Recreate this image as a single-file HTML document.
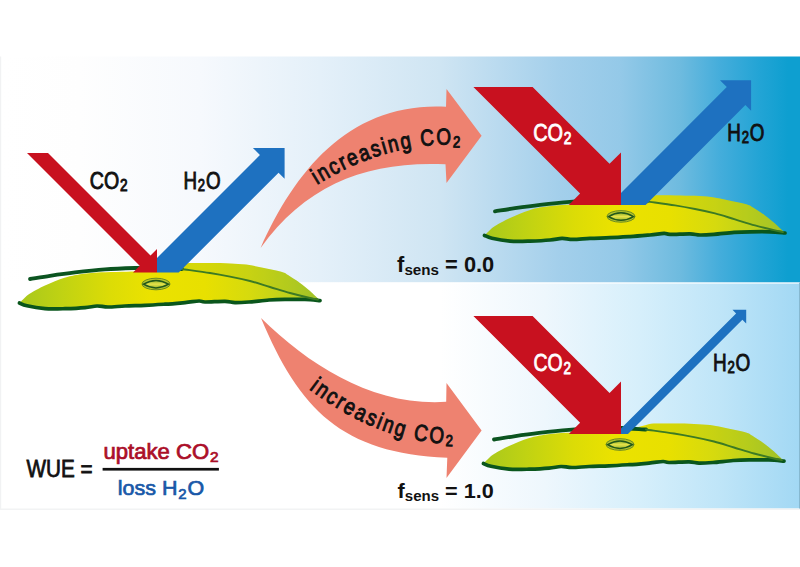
<!DOCTYPE html>
<html><head><meta charset="utf-8">
<style>
html,body{margin:0;padding:0;background:#fff;width:800px;height:567px;overflow:hidden}
svg{display:block}
text{font-family:"Liberation Sans",sans-serif;}
</style></head><body>
<svg width="800" height="567" viewBox="0 0 800 567">
<defs>
  <linearGradient id="gTop" gradientUnits="userSpaceOnUse" x1="0" y1="0" x2="800" y2="0">
    <stop offset="0" stop-color="#ffffff"/>
    <stop offset="0.10" stop-color="#fefefe"/>
    <stop offset="0.25" stop-color="#f6f9fd"/>
    <stop offset="0.40" stop-color="#e4f0f9"/>
    <stop offset="0.55" stop-color="#cfe5f3"/>
    <stop offset="0.70" stop-color="#a3cfeb"/>
    <stop offset="0.775" stop-color="#94c9e8"/>
    <stop offset="0.85" stop-color="#6ebbdf"/>
    <stop offset="0.90" stop-color="#44addb"/>
    <stop offset="0.95" stop-color="#22a4d5"/>
    <stop offset="0.985" stop-color="#0e9fd0"/>
  </linearGradient>
  <linearGradient id="gBot" gradientUnits="userSpaceOnUse" x1="0" y1="0" x2="800" y2="0">
    <stop offset="0" stop-color="#ffffff"/>
    <stop offset="0.55" stop-color="#ffffff"/>
    <stop offset="0.68" stop-color="#eef7fd"/>
    <stop offset="0.8" stop-color="#d6effb"/>
    <stop offset="0.9" stop-color="#bfe5f8"/>
    <stop offset="1" stop-color="#a2d8f4"/>
  </linearGradient>
  <linearGradient id="gLeaf" gradientUnits="userSpaceOnUse" x1="0" y1="0" x2="800" y2="0">
    <stop offset="0.025" stop-color="#a8c81c"/>
    <stop offset="0.075" stop-color="#bfd213"/>
    <stop offset="0.1375" stop-color="#dcdc06"/>
    <stop offset="0.1875" stop-color="#ebe200"/>
    <stop offset="0.256" stop-color="#e8e000"/>
    <stop offset="0.3125" stop-color="#d6da0e"/>
    <stop offset="0.3625" stop-color="#bcd01c"/>
    <stop offset="0.40" stop-color="#a6c62a"/>
  </linearGradient>
  <linearGradient id="gStoma" x1="0" y1="0" x2="0" y2="1">
    <stop offset="0" stop-color="#8fb02a"/>
    <stop offset="0.5" stop-color="#e6e24a"/>
    <stop offset="1" stop-color="#9cb82c"/>
  </linearGradient>
  <g id="leaf">
    <path fill="url(#gLeaf)" d="M19.5,303.0 C20.4,302.1 23.2,299.1 25.0,297.5 C26.8,295.9 26.7,295.5 30.0,293.5 C33.3,291.5 39.2,288.1 45.0,285.5 C50.8,282.9 59.0,279.6 64.5,277.8 C70.0,276.0 72.5,275.6 78.0,274.7 C83.5,273.8 88.0,273.0 97.5,272.5 C107.0,272.0 125.1,271.8 135.0,271.5 C144.9,271.2 153.3,271.1 157.0,271.0 L182,264.5 C183.3,264.2 185.3,263.2 190.0,263.0 C194.7,262.8 203.3,262.9 210.0,263.0 C216.7,263.1 224.0,263.1 230.0,263.4 C236.0,263.7 240.3,263.8 246.0,264.6 C251.7,265.4 258.0,266.8 264.0,268.0 C270.0,269.2 278.0,270.8 282.0,272.0 C286.0,273.2 285.0,273.2 288.0,275.0 C291.0,276.8 296.3,280.3 300.0,283.0 C303.7,285.7 306.7,288.1 310.0,291.0 C313.3,293.9 318.3,299.0 320.0,300.6 L320.0,300.6 C317.5,300.4 310.8,299.6 305.0,299.4 C299.2,299.2 291.0,299.3 285.0,299.4 C279.0,299.5 275.0,299.6 269.0,300.0 C263.0,300.4 254.7,301.6 249.0,302.0 C243.3,302.4 239.0,302.7 235.0,302.6 C231.0,302.5 230.0,301.5 225.0,301.4 C220.0,301.3 209.3,302.1 205.0,302.0 C200.7,301.9 202.3,300.9 199.0,301.0 C195.7,301.1 190.7,302.1 185.0,302.6 C179.3,303.1 171.7,303.8 165.0,304.2 C158.3,304.6 151.7,305.0 145.0,305.3 C138.3,305.6 131.2,305.7 125.0,306.0 C118.8,306.3 112.7,307.0 108.0,307.0 C103.3,307.0 100.8,305.9 97.0,306.0 C93.2,306.1 90.3,307.2 85.0,307.6 C79.7,308.1 71.7,308.5 65.0,308.7 C58.3,308.9 51.3,309.2 45.0,308.7 C38.7,308.2 31.2,306.8 27.0,305.8 C22.8,304.9 20.8,303.5 19.5,303.0 Z"/>
    <path fill="#8db526" fill-opacity="0.2" d="M182,264.5 C183.3,264.2 185.3,263.2 190.0,263.0 C194.7,262.8 203.3,262.9 210.0,263.0 C216.7,263.1 224.0,263.1 230.0,263.4 C236.0,263.7 240.3,263.8 246.0,264.6 C251.7,265.4 258.0,266.8 264.0,268.0 C270.0,269.2 278.0,270.8 282.0,272.0 C286.0,273.2 285.0,273.2 288.0,275.0 C291.0,276.8 296.3,280.3 300.0,283.0 C303.7,285.7 306.7,288.1 310.0,291.0 C313.3,293.9 318.3,299.0 320.0,300.6 L318,299.6 C316.7,299.3 314.7,299.1 310.0,298.0 C305.3,296.9 296.7,294.8 290.0,293.0 C283.3,291.2 276.7,289.0 270.0,287.0 C263.3,285.0 256.7,282.7 250.0,281.0 C243.3,279.3 236.7,277.9 230.0,276.6 C223.3,275.3 218.0,274.3 210.0,273.0 C202.0,271.7 186.7,269.7 182.0,269.0 Z"/>
    <path fill="none" stroke="#0a561c" stroke-width="3.7" stroke-linejoin="round" stroke-linecap="round" d="M19.5,303.0 C20.8,303.5 22.8,304.9 27.0,305.8 C31.2,306.8 38.7,308.2 45.0,308.7 C51.3,309.2 58.3,308.9 65.0,308.7 C71.7,308.5 79.7,308.1 85.0,307.6 C90.3,307.2 93.2,306.1 97.0,306.0 C100.8,305.9 103.3,307.0 108.0,307.0 C112.7,307.0 118.8,306.3 125.0,306.0 C131.2,305.7 138.3,305.6 145.0,305.3 C151.7,305.0 158.3,304.6 165.0,304.2 C171.7,303.8 179.3,303.1 185.0,302.6 C190.7,302.1 195.7,301.1 199.0,301.0 C202.3,300.9 200.7,301.9 205.0,302.0 C209.3,302.1 220.0,301.3 225.0,301.4 C230.0,301.5 231.0,302.5 235.0,302.6 C239.0,302.7 243.3,302.4 249.0,302.0 C254.7,301.6 263.0,300.4 269.0,300.0 C275.0,299.6 279.0,299.5 285.0,299.4 C291.0,299.3 299.2,299.2 305.0,299.4 C310.8,299.6 317.5,300.4 320.0,300.6"/>
    <path fill="none" stroke="#0b5420" stroke-width="3.8" stroke-linecap="round" d="M30.0,279.0 C33.3,278.5 42.5,276.9 50.0,275.8 C57.5,274.7 65.8,273.5 75.0,272.4 C84.2,271.3 95.0,270.1 105.0,269.4 C115.0,268.7 126.3,268.3 135.0,268.0 C143.7,267.7 149.2,267.3 157.0,267.5 C164.8,267.7 177.8,268.8 182.0,269.0"/>
    <path fill="none" stroke="#3c7a24" stroke-width="1.9" stroke-linecap="round" d="M182.0,269.0 C186.7,269.7 202.0,271.7 210.0,273.0 C218.0,274.3 223.3,275.3 230.0,276.6 C236.7,277.9 243.3,279.3 250.0,281.0 C256.7,282.7 263.3,285.0 270.0,287.0 C276.7,289.0 283.3,291.2 290.0,293.0 C296.7,294.8 305.3,296.9 310.0,298.0 C314.7,299.1 316.7,299.3 318.0,299.6"/>
    <ellipse cx="156" cy="284" rx="14" ry="5.8" fill="#b5c52c" stroke="#6a8a22" stroke-width="1"/>
    <path d="M143.5,284.2 Q156,276.6 168.5,284.2 Q156,291.6 143.5,284.2 Z" fill="url(#gStoma)" stroke="#22581a" stroke-width="1.5"/>
  </g>
  
</defs>

<!-- panels -->
<rect x="1" y="56.5" width="799" height="226" fill="url(#gTop)"/>
<rect x="1" y="282.5" width="799" height="226" fill="url(#gBot)"/>
<rect x="2" y="282.5" width="798" height="1.5" fill="#ffffff" fill-opacity="0.6"/>
<rect x="0" y="56.5" width="1.2" height="453" fill="#f1f2f3"/>
<rect x="0" y="508.5" width="800" height="1.5" fill="#f2f3f4"/>
<rect x="799" y="282.5" width="1" height="226" fill="#86b8d0"/>

<!-- curved arrows -->
<path fill="#ee8270" d="M260.6,247.9 C296.2,168.3 351.3,101.8 446.0,106.7 L446.5,88.9 L481.6,135.7 L446.5,183 L445.5,164.3 C368.8,160.6 306.4,183.8 260.6,247.9 Z"/>
<path fill="#ee8270" d="M261.0,317.9 C299.2,409.5 341.9,453.2 447.3,457.7 L446.5,477.9 L481.6,430.4 L446.5,383 L446.2,401.8 C374.1,406.4 310.5,366.4 261.0,317.9 Z"/>

<g font-family="Liberation Sans" font-size="23" fill="#111" stroke="#111" stroke-width="1.0">
<text transform="translate(318.76 183.64) rotate(-31.14) scale(0.820 1)" text-anchor="middle">i</text>
<text transform="translate(326.70 178.98) rotate(-29.56) scale(0.820 1)" text-anchor="middle">n</text>
<text transform="translate(337.09 173.34) rotate(-27.40) scale(0.820 1)" text-anchor="middle">c</text>
<text transform="translate(345.80 169.01) rotate(-25.54) scale(0.820 1)" text-anchor="middle">r</text>
<text transform="translate(355.12 164.76) rotate(-23.46) scale(0.820 1)" text-anchor="middle">e</text>
<text transform="translate(366.56 160.10) rotate(-20.83) scale(0.820 1)" text-anchor="middle">a</text>
<text transform="translate(377.71 156.15) rotate(-18.18) scale(0.820 1)" text-anchor="middle">s</text>
<text transform="translate(386.00 153.58) rotate(-16.15) scale(0.820 1)" text-anchor="middle">i</text>
<text transform="translate(394.89 151.19) rotate(-13.93) scale(0.820 1)" text-anchor="middle">n</text>
<text transform="translate(406.96 148.54) rotate(-10.84) scale(0.820 1)" text-anchor="middle">g</text>
<text transform="translate(427.77 145.57) rotate(-5.38) scale(0.820 1)" text-anchor="middle">C</text>
<text transform="translate(443.76 144.66) rotate(-1.11) scale(0.820 1)" text-anchor="middle">O</text>
<text transform="translate(456.50 147.30) rotate(2.33) scale(0.820 1)" text-anchor="middle" font-size="16">2</text>
<text transform="translate(310.60 390.24) rotate(36.73) scale(0.820 1)" text-anchor="middle">i</text>
<text transform="translate(318.41 395.90) rotate(35.20) scale(0.820 1)" text-anchor="middle">n</text>
<text transform="translate(328.56 402.80) rotate(33.13) scale(0.820 1)" text-anchor="middle">c</text>
<text transform="translate(337.16 408.21) rotate(31.30) scale(0.820 1)" text-anchor="middle">r</text>
<text transform="translate(346.38 413.60) rotate(29.25) scale(0.820 1)" text-anchor="middle">e</text>
<text transform="translate(357.69 419.60) rotate(26.61) scale(0.820 1)" text-anchor="middle">a</text>
<text transform="translate(368.78 424.84) rotate(23.91) scale(0.820 1)" text-anchor="middle">s</text>
<text transform="translate(377.17 428.37) rotate(21.78) scale(0.820 1)" text-anchor="middle">i</text>
<text transform="translate(386.21 431.77) rotate(19.42) scale(0.820 1)" text-anchor="middle">n</text>
<text transform="translate(398.38 435.68) rotate(16.13) scale(0.820 1)" text-anchor="middle">g</text>
<text transform="translate(419.71 440.66) rotate(10.10) scale(0.820 1)" text-anchor="middle">C</text>
<text transform="translate(436.00 442.87) rotate(5.33) scale(0.820 1)" text-anchor="middle">O</text>
<text transform="translate(449.21 446.15) rotate(1.39) scale(0.820 1)" text-anchor="middle" font-size="16">2</text>
</g>

<!-- leaves -->
<use href="#leaf"/>
<use href="#leaf" transform="translate(465 -67.6)"/>
<use href="#leaf" transform="translate(464 160.5)"/>

<!-- left arrows -->
<polygon fill="#c8111f" points="27,153 48,153 150.5,255.5 157,249 157,272.5 133,272.5 139.75,265.75"/>
<polygon fill="#1e71c0" points="157,272.5 157,258 259.95,155.05 252.9,148 284.6,148 284.6,178.7 278.55,172.65 178.7,272.5"/>

<!-- top right arrows -->
<polygon fill="#c8111f" points="473.4,86.9 532.6,86.9 609.55,163.85 621,152.4 621,204.9 568.8,204.9 580.1,193.6"/>
<polygon fill="#1e71c0" points="621,204.9 621,192.9 726.8,87.1 720,80.3 751.1,80.3 751.1,110.8 745.4,105.1 645.6,204.9"/>

<!-- bottom right arrows -->
<polygon fill="#c8111f" transform="translate(0 229.1)" points="473.4,86.9 532.6,86.9 609.55,163.85 621,152.4 621,204.9 568.8,204.9 580.1,193.6"/>
<polygon fill="#1e71c0" points="621,434 621,428.5 736.1,313.4 732.5,309.8 746.2,309.8 746.2,323.5 742.35,319.65 628,434"/>

<!-- labels -->
<g font-family="Liberation Sans">
<text transform="translate(89.75 188.55) scale(0.851 1)" font-size="23" fill="#111" stroke="#111" stroke-width="0.9">CO<tspan font-size="16" dy="2.5" dx="1">2</tspan></text>
<text transform="translate(183.43 188.6) scale(0.817 1)" font-size="23" fill="#111" stroke="#111" stroke-width="0.9">H<tspan font-size="16" dy="2.5" dx="1">2</tspan><tspan dy="-2.5" dx="1">O</tspan></text>
<text transform="translate(533.13 141.08) scale(0.865 1)" font-size="23" fill="#fff" stroke="#fff" stroke-width="0.8">CO<tspan font-size="16" dy="2.5" dx="1">2</tspan></text>
<text transform="translate(727.28 140.75) scale(0.818 1)" font-size="23" fill="#111" stroke="#111" stroke-width="0.9">H<tspan font-size="16" dy="2.5" dx="1">2</tspan><tspan dy="-2.5" dx="1">O</tspan></text>
<text transform="translate(533.55 371.1) scale(0.845 1)" font-size="23" fill="#fff" stroke="#fff" stroke-width="0.8">CO<tspan font-size="16" dy="2.5" dx="1">2</tspan></text>
<text transform="translate(712.93 370.89) scale(0.824 1)" font-size="23" fill="#111" stroke="#111" stroke-width="0.9">H<tspan font-size="16" dy="2.5" dx="1">2</tspan><tspan dy="-2.5" dx="1">O</tspan></text>
<text transform="translate(397.1 271.96) scale(0.95 0.929)" font-size="23" font-weight="bold" fill="#111">f<tspan font-size="16" dy="3.2">sens</tspan><tspan dy="-3.2"> = 0.0</tspan></text>
<text transform="translate(397.6 497.74) scale(0.94 0.919)" font-size="23" font-weight="bold" fill="#111">f<tspan font-size="16" dy="3.2">sens</tspan><tspan dy="-3.2"> = 1.0</tspan></text>
<text transform="translate(26.5 476.5) scale(0.862 0.971)" font-size="24" fill="#111" stroke="#111" stroke-width="0.8">WUE =</text>
<text transform="translate(103.54 458.85) scale(0.961 0.93)" font-size="23" fill="#ab0f29" stroke="#ab0f29" stroke-width="0.8">uptake CO<tspan font-size="16" dy="3.5" dx="1">2</tspan></text>
<text transform="translate(117.82 495.43) scale(0.932 0.918)" font-size="23" fill="#1858a8" stroke="#1858a8" stroke-width="0.8">loss H<tspan font-size="16" dy="3.5" dx="1">2</tspan><tspan dy="-3.5" dx="1">O</tspan></text>
</g>
<rect x="102.6" y="467.9" width="116.3" height="2.7" fill="#111"/>

</svg>
</body></html>
